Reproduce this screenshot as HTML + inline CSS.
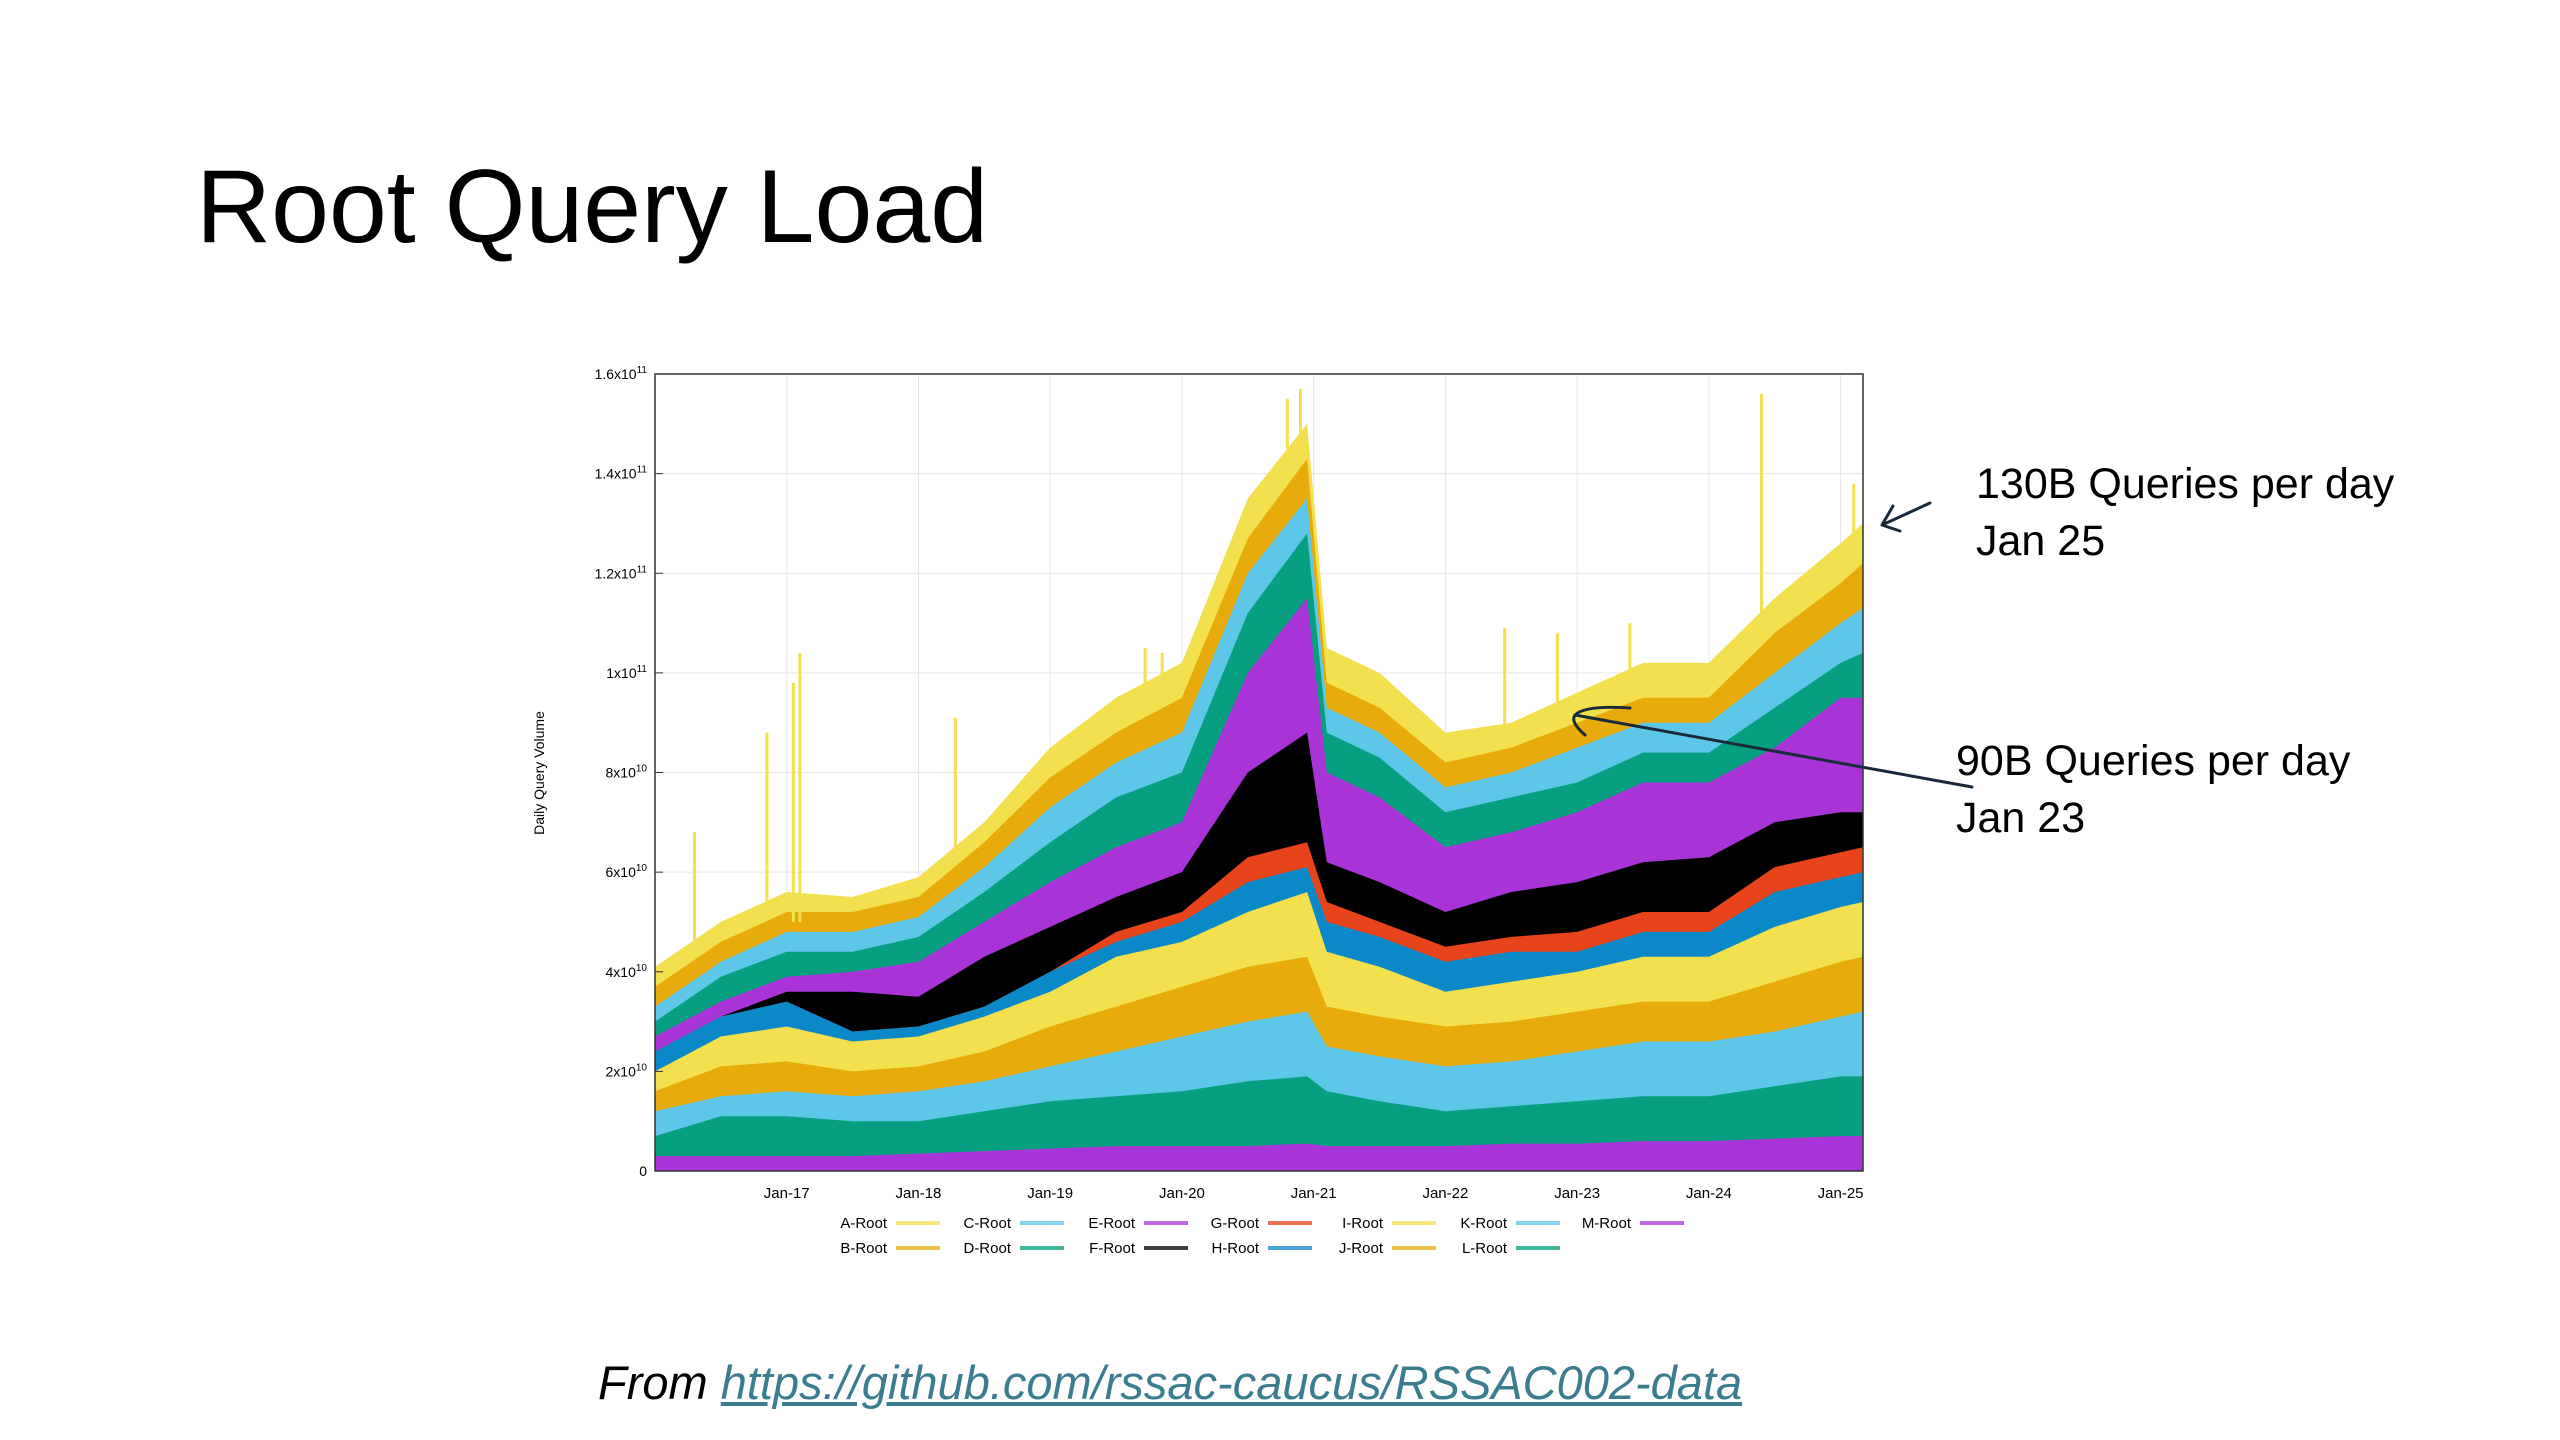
<!DOCTYPE html>
<html><head><meta charset="utf-8"><style>
body{margin:0;width:2560px;height:1440px;background:#fff;overflow:hidden;font-family:"Liberation Sans",sans-serif;position:relative}
.t{position:absolute;color:#000;white-space:nowrap}
</style></head><body>
<div class="t" style="left:196px;top:148px;font-size:104px;">Root Query Load</div>
<div class="t" style="left:1976px;top:456px;font-size:43px;line-height:57px">130B Queries per day<br>Jan 25</div>
<div class="t" style="left:1956px;top:733px;font-size:43px;line-height:57px">90B Queries per day<br>Jan 23</div>
<div class="t" style="left:598px;top:1355px;font-size:47px;font-style:italic">From <a style="color:#3b7d8f;text-decoration:underline">https://github.com/rssac-caucus/RSSAC002-data</a></div>
<svg id="chart" width="2560" height="1440" style="position:absolute;left:0;top:0" xmlns="http://www.w3.org/2000/svg"></svg>
<script>
const dates=[2016.0,2016.5,2017.0,2017.5,2018.0,2018.5,2019.0,2019.5,2020.0,2020.5,2020.95,2021.1,2021.5,2022.0,2022.5,2023.0,2023.5,2024.0,2024.5,2025.0,2025.17];
// cumulative stack tops in units of 1e10 (A on top ... M at bottom)
const topA=[4.1,5.0,5.6,5.5,5.9,7.0,8.5,9.5,10.2,13.5,15.0,10.5,10.0,8.8,9.0,9.6,10.2,10.2,11.5,12.6,13.0];
const topB=[3.7,4.6,5.2,5.2,5.5,6.6,7.9,8.8,9.5,12.7,14.3,9.8,9.3,8.2,8.5,9.0,9.5,9.5,10.8,11.8,12.2];
const topC=[3.3,4.2,4.8,4.8,5.1,6.1,7.3,8.2,8.8,12.0,13.5,9.3,8.8,7.7,8.0,8.5,9.0,9.0,10.0,11.0,11.3];
const topD=[3.0,3.9,4.4,4.4,4.7,5.6,6.6,7.5,8.0,11.2,12.8,8.8,8.3,7.2,7.5,7.8,8.4,8.4,9.3,10.2,10.4];
const topE=[2.7,3.4,3.9,4.0,4.2,5.0,5.8,6.5,7.0,10.0,11.5,8.0,7.5,6.5,6.8,7.2,7.8,7.8,8.5,9.5,9.5];
const topF=[2.4,3.1,3.6,3.6,3.5,4.3,4.9,5.5,6.0,8.0,8.8,6.2,5.8,5.2,5.6,5.8,6.2,6.3,7.0,7.2,7.2];
const topG=[2.4,3.1,3.4,2.8,2.9,3.3,4.0,4.8,5.2,6.3,6.6,5.4,5.0,4.5,4.7,4.8,5.2,5.2,6.1,6.4,6.5];
const topH=[2.4,3.1,3.4,2.8,2.9,3.3,4.0,4.6,5.0,5.8,6.1,5.0,4.7,4.2,4.4,4.4,4.8,4.8,5.6,5.9,6.0];
const topI=[2.0,2.7,2.9,2.6,2.7,3.1,3.6,4.3,4.6,5.2,5.6,4.4,4.1,3.6,3.8,4.0,4.3,4.3,4.9,5.3,5.4];
const topJ=[1.6,2.1,2.2,2.0,2.1,2.4,2.9,3.3,3.7,4.1,4.3,3.3,3.1,2.9,3.0,3.2,3.4,3.4,3.8,4.2,4.3];
const topK=[1.2,1.5,1.6,1.5,1.6,1.8,2.1,2.4,2.7,3.0,3.2,2.5,2.3,2.1,2.2,2.4,2.6,2.6,2.8,3.1,3.2];
const topL=[0.7,1.1,1.1,1.0,1.0,1.2,1.4,1.5,1.6,1.8,1.9,1.6,1.4,1.2,1.3,1.4,1.5,1.5,1.7,1.9,1.9];
const topM=[0.3,0.3,0.3,0.3,0.35,0.4,0.45,0.5,0.5,0.5,0.55,0.5,0.5,0.5,0.55,0.55,0.6,0.6,0.65,0.7,0.7];
const spikeDates=[2016.3,2016.85,2017.05,2017.1,2018.28,2019.72,2019.85,2020.8,2020.9,2022.45,2022.85,2023.4,2024.4,2025.1];
const spikeValues=[6.8,8.8,9.8,10.4,9.1,10.5,10.4,15.5,15.7,10.9,10.8,11.0,15.6,13.8];
const yTicks=[0,2,4,6,8,10,12,14,16];
const yTickLabels=["0","2x10|10","4x10|10","6x10|10","8x10|10","1x10|11","1.2x10|11","1.4x10|11","1.6x10|11"];
const xTickYears=[2017,2018,2019,2020,2021,2022,2023,2024,2025];
const xTickLabels=["Jan-17","Jan-18","Jan-19","Jan-20","Jan-21","Jan-22","Jan-23","Jan-24","Jan-25"];
const roots=["A-Root","B-Root","C-Root","D-Root","E-Root","F-Root","G-Root","H-Root","I-Root","J-Root","K-Root","L-Root","M-Root"];
const colors=["#f2e04f","#e8ab0c","#5ec6e8","#06a080","#a834d8","#000000","#e8441c","#0a88c8","#f2e04f","#e8ab0c","#5ec6e8","#06a080","#a834d8"];
const tops=[topA,topB,topC,topD,topE,topF,topG,topH,topI,topJ,topK,topL,topM];

const svg=document.getElementById('chart');const NS='http://www.w3.org/2000/svg';
const L=655,R=1863,T=374,B=1171;
const X0=2016.0,X1=2025.17,Y1=16;
const xs=d=>L+(d-X0)/(X1-X0)*(R-L);
const ys=v=>B-v/Y1*(B-T);
function mk(tag,at,parent){const e=document.createElementNS(NS,tag);for(const k in at)e.setAttribute(k,at[k]);(parent||svg).appendChild(e);return e;}
yTicks.forEach((v,i)=>{const g=mk('line',{x1:L,x2:R,y1:ys(v),y2:ys(v),stroke:'#e6e6e6','stroke-width':1});

});
xTickYears.forEach(yr=>{const g=mk('line',{x1:xs(yr),x2:xs(yr),y1:T,y2:B,stroke:'#e6e6e6','stroke-width':1});

});
tops.forEach((arr,i)=>{
 let d='M'+xs(dates[0])+','+B;
 arr.forEach((v,j)=>{d+=' L'+xs(dates[j]).toFixed(1)+','+ys(v).toFixed(1);});
 d+=' L'+xs(dates[dates.length-1])+','+B+' Z';
 const p=mk('path',{d:d,fill:colors[i]});
 
 
});
spikeDates.forEach((sd,i)=>{const s=mk('line',{x1:xs(sd),x2:xs(sd),y1:ys(spikeValues[i]),y2:ys(topA[Math.min(dates.length-1,dates.findIndex(d=>d>sd))]-0.5),stroke:'#f2e04f','stroke-width':3});

});
const bd=mk('rect',{x:L,y:T,width:R-L,height:B-T,fill:'none',stroke:'#333','stroke-width':1.5});


yTicks.forEach((v,i)=>{const parts=yTickLabels[i].split('|');
 const t=mk('text',{x:L-8,y:ys(v)+5,'text-anchor':'end','font-size':14,fill:'#000','font-family':'Liberation Sans'});
 
 
 t.appendChild(document.createTextNode(parts[0]));
 if(parts[1]){const s=mk('tspan',{dy:-6,'font-size':10},t);s.textContent=parts[1];}
 mk('line',{x1:L,x2:L+8,y1:ys(v),y2:ys(v),stroke:'#333'});
});
xTickYears.forEach((yr,i)=>{const t=mk('text',{x:xs(yr),y:B+27,'text-anchor':'middle','font-size':15,fill:'#000','font-family':'Liberation Sans'});
 
 
 t.textContent=xTickLabels[i];});
const yt=mk('text',{x:0,y:0,transform:'translate(544,773) rotate(-90)','text-anchor':'middle','font-size':14,fill:'#000','font-family':'Liberation Sans'});


yt.textContent='Daily Query Volume';
roots.forEach((r,i)=>{const col=Math.floor(i/2),row=i%2;const x=887+col*124,y=1228+row*25;
 const g=mk('g',{});
 
 
 const t=mk('text',{x:x,y:y,'text-anchor':'end','font-size':15,fill:'#000','font-family':'Liberation Sans'},g);t.textContent=r;
 mk('line',{x1:x+9,x2:x+53,y1:y-5,y2:y-5,stroke:colors[i],'stroke-width':4,opacity:0.75},g);
});
const a1=mk('path',{d:'M1930,503 L1882,525 M1882,525 L1893,506 M1882,525 L1900,531',stroke:'#1b2a3a','stroke-width':3,fill:'none','stroke-linecap':'round'});


const a2=mk('path',{d:'M1972,787 L1575,715 M1575,715 Q1585,705 1630,708 M1575,715 Q1570,722 1585,735',stroke:'#1b2a3a','stroke-width':3,fill:'none','stroke-linecap':'round'});


</script>
</body></html>
